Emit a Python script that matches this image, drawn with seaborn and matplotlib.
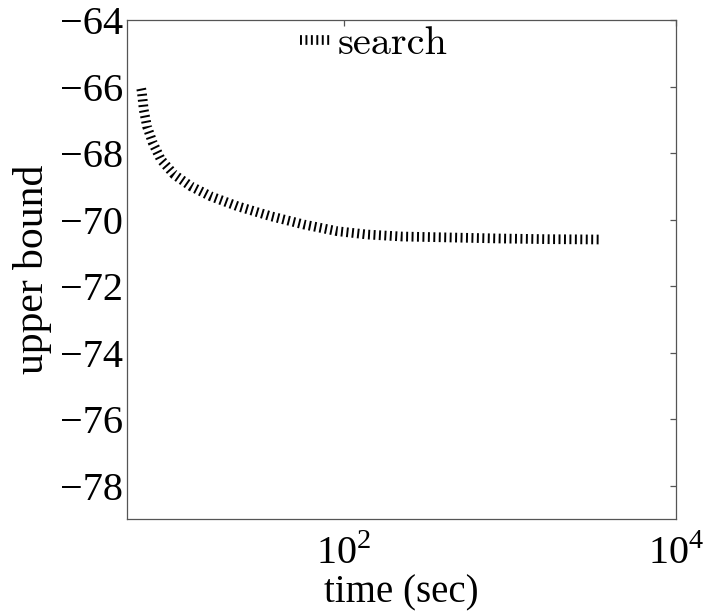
# Importing required libraries ====

import matplotlib.pyplot as plt
import matplotlib.ticker as mticker
import numpy as np
import pandas as pd
import seaborn as sns


# Data ====

time_sec = [6.05, 6.1, 6.27, 6.56, 7.10, 7.96, 9.57, 12.05, 15.86, 23.0,
            36.5, 57.8, 91.7, 138.8, 225, 450, 877, 1700, 3500]
upper_bound = [-66.05, -66.14, -66.69, -67.19, -67.68, -68.19, -68.64, -68.99,
               -69.29, -69.59, -69.89, -70.14, -70.34, -70.44, -70.50, -70.53,
               -70.56, -70.58, -70.59]
series_name = "search"
x_ticks = [1e2, 1e4]
y_ticks = [-78, -76, -74, -72, -70, -68, -66, -64]

df = pd.DataFrame({"time": time_sec, "ub": upper_bound, "method": series_name})


# Style ====

sns.set_theme(style = "white")
plt.rcParams["font.family"] = ["Liberation Serif", "DejaVu Serif"]
plt.rcParams["mathtext.fontset"] = "custom"
plt.rcParams["mathtext.rm"] = "Liberation Serif"
plt.rcParams["axes.edgecolor"] = "#555555"
plt.rcParams["axes.linewidth"] = 0.9
plt.rcParams["text.color"] = "black"
plt.rcParams["axes.labelcolor"] = "black"
plt.rcParams["xtick.labelcolor"] = "black"
plt.rcParams["ytick.labelcolor"] = "black"


# Line Plot ====

fig = plt.figure(figsize = (7.12, 6.13), dpi = 100)
ax = fig.add_axes([0.179, 0.1533, 0.949 - 0.179, 0.9666 - 0.1533])

sns.lineplot(data = df, x = "time", y = "ub", hue = "method",
             palette = ["black"], estimator = None, sort = False,
             linewidth = 7, ax = ax)
line = ax.get_lines()[0]
line.set_dashes([0.2, 0.36])
line.set_dash_capstyle("butt")

ax.set_xscale("log")
ax.set_xlim(5, 1e4)
ax.set_ylim(-79, -64)
ax.set_xticks(x_ticks)
ax.xaxis.set_minor_locator(mticker.NullLocator())
ax.xaxis.set_major_formatter(mticker.FuncFormatter(
    lambda v, p: r"$\mathrm{10}^{\mathrm{%d}}$" % round(np.log10(v))))
ax.set_yticks(y_ticks)

ax.tick_params(axis = "both", which = "major", direction = "in",
               top = True, right = True, length = 4.5, width = 0.9,
               color = "#555555", labelsize = 29, labelcolor = "black")
ax.tick_params(axis = "x", pad = 12)
ax.tick_params(axis = "y", pad = 3)

ax.set_xlabel("time (sec)", fontsize = 28, labelpad = 1)
ax.set_ylabel("upper bound", fontsize = 30, labelpad = 6)

handles, labels = ax.get_legend_handles_labels()
for h in handles:
    h.set_dashes([0.2, 0.36])
    h.set_dash_capstyle("butt")
ax.legend(handles, labels, loc = "center left",
          bbox_to_anchor = (0.421, 0.928), bbox_transform = fig.transFigure,
          frameon = False, borderpad = 0, borderaxespad = 0,
          handlelength = 0.8, handletextpad = 0.15,
          prop = {"family": "cmr10", "size": 29})

fig.savefig("out.png", dpi = 100)
